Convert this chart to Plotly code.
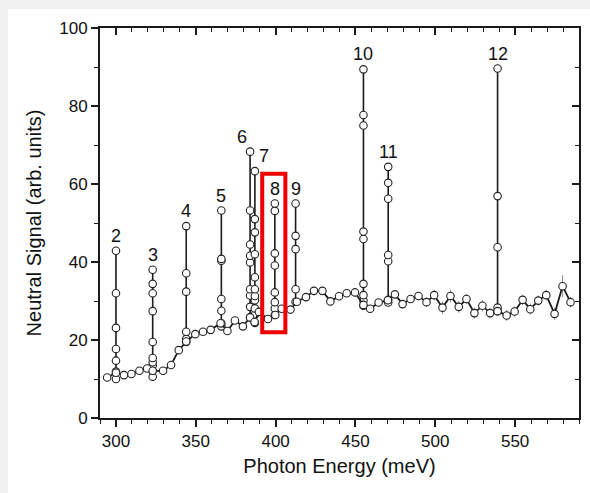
import plotly.graph_objects as go

# ---------------- data ----------------
base_x = [294.5, 300, 305, 309.7, 314.7, 319.5, 323, 329.5, 334.5, 339.3,
          344, 349.7, 354.5, 359.3, 365.5, 369.8, 374.5, 379.5, 384, 386.8,
          389.5, 395.2, 399.8, 403.8, 409.3, 413.3, 419, 424, 429.3, 434.3,
          439.7, 444.5, 449.7, 455, 459.2, 464.5, 470.3, 474.7, 479.5, 484.5,
          489.5, 494.5, 499.3, 504.5, 509.5, 514.7, 519.5, 524.5, 529.5, 534.3,
          539, 544.7, 549.7, 554.7, 559.5, 564.5, 569.5, 574.7, 579.7, 584.7]
base_y = [10.4, 11.6, 11.0, 11.3, 12.1, 12.7, 12.1, 12.1, 13.6, 17.4,
          19.6, 21.5, 22.1, 22.6, 24.3, 22.3, 25.0, 23.5, 25.8, 24.6,
          27.2, 25.4, 26.4, 28.0, 27.8, 29.8, 31.0, 32.6, 32.6, 29.9,
          31.2, 32.0, 32.2, 29.0, 28.0, 29.6, 30.2, 31.7, 29.2, 30.5,
          31.3, 29.7, 31.5, 28.3, 31.3, 28.5, 30.5, 26.9, 28.8, 26.9,
          27.4, 26.3, 27.3, 30.3, 27.9, 30.1, 31.5, 26.7, 33.8, 29.7]
base_err = [0.7, 0.7, 0.7, 0.7, 0.7, 0.7, 0.7, 0.7, 0.7, 0.7,
            0.7, 0.7, 0.7, 0.7, 0.7, 0.7, 0.7, 0.7, 0.7, 0.7,
            0.8, 0.8, 0.8, 0.8, 0.8, 0.8, 0.8, 0.8, 0.8, 0.9,
            0.9, 0.9, 0.9, 0.9, 0.9, 0.9, 0.9, 1.0, 1.0, 1.0,
            1.0, 1.2, 1.3, 1.6, 1.6, 1.5, 1.3, 1.4, 1.5, 1.3,
            1.0, 1.4, 1.3, 1.3, 1.4, 1.3, 1.3, 1.5, 2.8, 1.3]

peak_labels = ["2", "3", "4", "5", "6", "7", "8", "9", "10", "11", "12"]
peak_x = [300, 323, 344, 366, 384, 387, 399.5, 412.5, 455, 470.5, 539]
peak_vals = [
    [42.9, 32.0, 23.1, 17.7, 14.7, 11.9, 10.0],
    [38.0, 34.4, 32.0, 27.4, 19.5, 15.4, 14.3, 13.5, 12.1, 10.6],
    [49.2, 37.1, 32.4, 22.1, 20.3, 19.5],
    [53.2, 40.8, 40.3, 30.5, 27.5, 24.3, 23.5],
    [68.3, 53.2, 44.5, 41.6, 39.9, 33.0, 31.4, 28.5, 25.8],
    [63.3, 51.0, 47.6, 42.0, 36.1, 33.0, 31.3, 30.2, 28.1, 26.5, 24.4],
    [55.0, 53.1, 42.2, 39.1, 32.2, 29.7, 28.1, 26.4],
    [55.0, 46.7, 43.3, 33.0, 29.8],
    [89.4, 77.7, 75.0, 47.8, 45.9, 34.4, 31.5, 30.1, 28.8],
    [64.4, 60.3, 56.2, 41.8, 40.2, 30.3, 29.6],
    [89.6, 56.9, 43.8, 28.3, 27.4],
]

x_ticks = [300, 350, 400, 450, 500, 550]
y_ticks = [0, 20, 40, 60, 80, 100]

# ---------------- styling / layout ----------------
FONT = "Arial, Liberation Sans, sans-serif"
marker_style = dict(symbol="circle", size=7.5, color="white",
                    line=dict(color="#222222", width=1.1))

fig = go.Figure()

for px, vals in zip(peak_x, peak_vals):
    fig.add_trace(go.Scatter(
        x=[px] * len(vals), y=sorted(vals), mode="lines+markers",
        line=dict(color="#1a1a1a", width=1.6), marker=marker_style,
        showlegend=False, hoverinfo="x+y"))

fig.add_trace(go.Scatter(
    x=base_x, y=base_y, mode="lines+markers",
    line=dict(color="#1a1a1a", width=1.8), marker=marker_style,
    error_y=dict(type="data", array=base_err, visible=True,
                 color="#8a8a8a", thickness=1, width=0),
    showlegend=False, hoverinfo="x+y"))

# helper trace so the mirror axes (inside ticks) get drawn
fig.add_trace(go.Scatter(x=[None], y=[None], xaxis="x2", yaxis="y2",
                         showlegend=False, hoverinfo="skip"))

# peak labels
label_dx = {"6": -8, "7": 9}
for lab, px, vals in zip(peak_labels, peak_x, peak_vals):
    fig.add_annotation(x=px, y=max(vals), text=lab, showarrow=False,
                       xref="x", yref="y", yanchor="middle",
                       yshift=15, xshift=label_dx.get(lab, 0),
                       font=dict(family=FONT, size=18, color="#111111"))

# red highlight box around peak 8
fig.add_shape(type="rect", xref="x", yref="y",
              x0=391.6, x1=406.1, y0=22.0, y1=62.6,
              line=dict(color="#ee0000", width=4), fillcolor="rgba(0,0,0,0)")

axis_common = dict(showgrid=False, zeroline=False, showline=True,
                   linecolor="#1a1a1a", linewidth=1.8,
                   tickcolor="#1a1a1a", tickwidth=1.5)

# page: light gray strip at top (9 px) and left (8 px), figure fills the rest
EDGE_L, EDGE_T = 8, 9
W, H = 590 - EDGE_L, 493 - EDGE_T

fig.update_layout(
    width=W, height=H,
    margin=dict(l=100 - EDGE_L, r=11, t=28 - EDGE_T, b=75, autoexpand=False),
    paper_bgcolor="white", plot_bgcolor="white",
    font=dict(family=FONT, size=17, color="#111111"),
    xaxis=dict(range=[290, 590], tickvals=x_ticks, ticks="outside", ticklen=7,
               minor=dict(dtick=10, tick0=290, ticks="outside", ticklen=4,
                          tickcolor="#1a1a1a", tickwidth=1.2),
               tickfont=dict(size=17),
               title=dict(text="Photon Energy (meV)", font=dict(size=20), standoff=9),
               **axis_common),
    yaxis=dict(range=[0, 100], tickvals=y_ticks, ticks="outside", ticklen=7,
               minor=dict(dtick=10, tick0=0, ticks="outside", ticklen=4,
                          tickcolor="#1a1a1a", tickwidth=1.2),
               tickfont=dict(size=17),
               title=dict(text="Neutral Signal (arb. units)", font=dict(size=20), standoff=12),
               **axis_common),
    xaxis2=dict(range=[290, 590], overlaying="x", side="top", anchor="y",
                tickvals=x_ticks, ticks="inside", ticklen=7, showticklabels=False,
                minor=dict(dtick=10, tick0=290, ticks="inside", ticklen=4,
                           tickcolor="#1a1a1a", tickwidth=1.2),
                **axis_common),
    yaxis2=dict(range=[0, 100], overlaying="y", side="right", anchor="x",
                tickvals=y_ticks, ticks="inside", ticklen=7, showticklabels=False,
                minor=dict(dtick=10, tick0=0, ticks="inside", ticklen=4,
                           tickcolor="#1a1a1a", tickwidth=1.2),
                **axis_common),
)

fig.write_html(
    "out.html",
    config={"displayModeBar": False},
    post_script=(
        "document.body.style.margin='0';"
        "document.body.style.padding='%dpx 0 0 %dpx';"
        "document.body.style.background='#f1f1f1';"
        "document.body.style.overflow='hidden';" % (EDGE_T, EDGE_L)
    ),
)
